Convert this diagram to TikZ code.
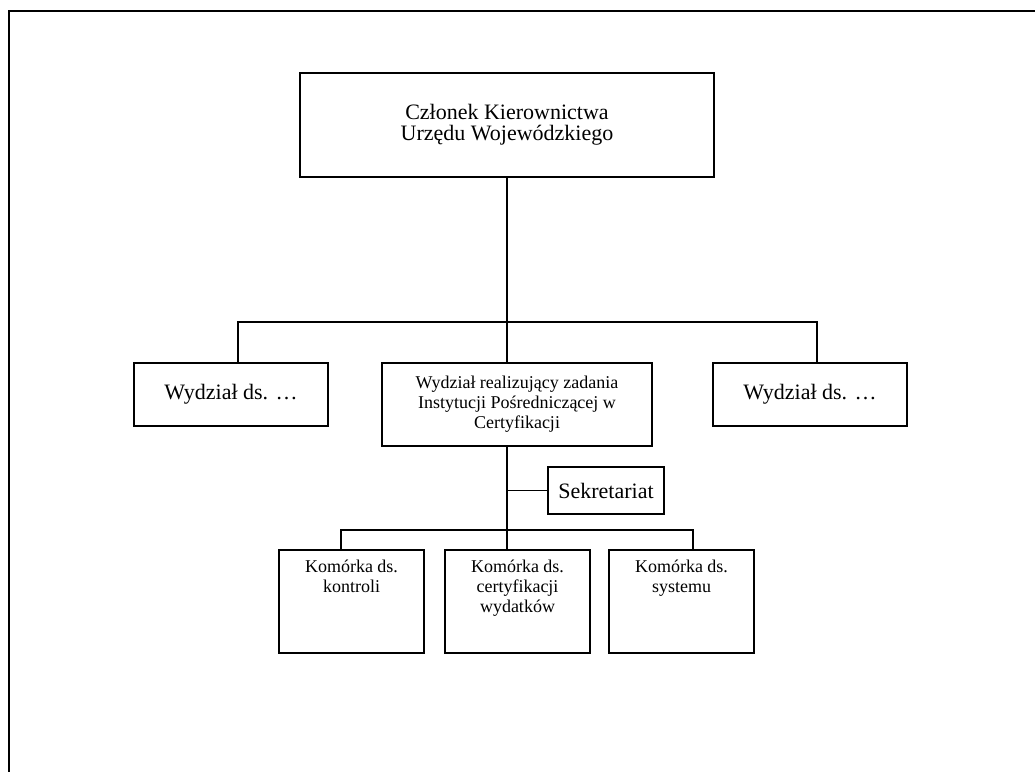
\documentclass[tikz,border=0pt]{standalone}
\usepackage{fontspec}
\setmainfont{Liberation Serif}
\begin{document}
\begin{tikzpicture}[x=0.75pt,y=-0.75pt,
        box/.style={draw,line width=1.2pt,inner sep=0pt},
        big/.style={font=\fontsize{16.5}{15.75}\selectfont},
        small/.style={font=\fontsize{13.5}{15}\selectfont},
        cell/.style={box,small,minimum width=108.75pt,minimum height=77.25pt,
            execute at begin node={\begin{minipage}[t][77.25pt][t]{108.75pt}\centering\rule{0pt}{16.5pt}},
            execute at end node={\end{minipage}}},
        link/.style={line width=1.2pt}]
    \useasboundingbox (0,0) rectangle (1035,771);
    \draw [line width=1.8pt] (9,772) -- (9,11) -- (1036,11);

    \node [box,big,align=center,minimum width=310.5pt,minimum height=78pt] (chief) at (507,125) {Członek Kierownictwa\\Urzędu Wojewódzkiego};
    \node [box,big,minimum width=145.5pt,minimum height=47.25pt] (wydzL) at (231,394.5) {Wydział ds. …};
    \node [box,big,minimum width=145.5pt,minimum height=47.25pt] (wydzR) at (810,394.5) {Wydział ds. …};
    \node [box,small,align=center,minimum width=202.5pt,minimum height=62.25pt] (wydzIP) at (517,404.5) {Wydział realizujący zadania\\Instytucji Pośredniczącej w\\Certyfikacji};
    \node [box,big,minimum width=87pt,minimum height=35.25pt] (sekr) at (606,490.5) {Sekretariat};
    \node [cell] (komK) at (351.5,601.5) {Komórka ds.\\kontroli};
    \node [cell] (komC) at (517.5,601.5) {Komórka ds.\\certyfikacji\\wydatków};
    \node [cell] (komS) at (681.5,601.5) {Komórka ds.\\systemu};

    \coordinate (bus) at (507,322);
    \coordinate (bus2) at (507,530);
    \draw [link]
        (chief.south) -- (bus)
        ([xshift=5.25pt]wydzL.north) |- (bus) -| ([xshift=5.25pt]wydzR.north)
        (bus) -- (wydzIP.north -| bus)
        (wydzIP.south -| bus2) -- (bus2) -- (komC.north -| bus2)
        (sekr.west -| bus2) -- (sekr.west)
        ([xshift=-7.875pt]komK.north) |- (bus2) -| ([xshift=8.625pt]komS.north)
    ;
\end{tikzpicture}
\end{document}
